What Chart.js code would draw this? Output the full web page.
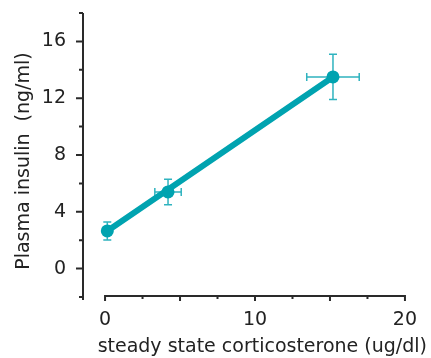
<!DOCTYPE html>
<html>
<head>
<meta charset="utf-8">
<script src="https://cdn.jsdelivr.net/npm/chart.js@4/dist/chart.umd.min.js"></script>
<style>
  body { margin: 0; background: #fff; }
  #wrap { width: 431px; height: 358px; }
</style>
</head>
<body>
<div id="wrap"><canvas id="insulinChart" width="431" height="358"></canvas></div>
<script>
var corticosterone = [0.15, 4.2, 15.2];
var insulin = [2.65, 5.4, 13.5];
var corticosteroneErr = [0.2, 0.88, 1.75];
var insulinErr = [0.63, 0.9, 1.6];

// regression line end points
var fitX = [0.15, 15.2];
var fitY = [2.65, 13.5];

var xTickLabels = [0, 10, 20];
var xTickMarks = [0, 2.5, 5, 7.5, 10, 12.5, 15, 17.5, 20];
var xMajor = [0, 5, 10, 15, 20];
var yTickLabels = [0, 4, 8, 12, 16];
var yTickMarks = [-2, 0, 2, 4, 6, 8, 10, 12, 14, 16, 18];

var teal = "#00a3b0";
var errTeal = "#2fb3bf";
var axisColor = "#2a2a2a";

Chart.defaults.font.family = "'DejaVu Sans', sans-serif";
Chart.defaults.font.size = 19;
Chart.defaults.color = "#222";

// axes drawn by hand so the x axis can stop at 0 and 20 like the original
var axesPlugin = {
    id: "axesPlugin",
    beforeDatasetsDraw: function (chart) {
        var ctx = chart.ctx;
        var xs = chart.scales.x, ys = chart.scales.y;
        ctx.save();
        ctx.strokeStyle = errTeal;
        ctx.lineWidth = 1.5;
        for (var i = 0; i < corticosterone.length; i++) {
            var px = xs.getPixelForValue(corticosterone[i]);
            var py = ys.getPixelForValue(insulin[i]);
            var x0 = xs.getPixelForValue(corticosterone[i] - corticosteroneErr[i]);
            var x1 = xs.getPixelForValue(corticosterone[i] + corticosteroneErr[i]);
            var y0 = ys.getPixelForValue(insulin[i] - insulinErr[i]);
            var y1 = ys.getPixelForValue(insulin[i] + insulinErr[i]);
            ctx.beginPath();
            ctx.moveTo(x0, py); ctx.lineTo(x1, py);
            ctx.moveTo(x0, py - 4); ctx.lineTo(x0, py + 4);
            ctx.moveTo(x1, py - 4); ctx.lineTo(x1, py + 4);
            ctx.moveTo(px, y0); ctx.lineTo(px, y1);
            ctx.moveTo(px - 4, y0); ctx.lineTo(px + 4, y0);
            ctx.moveTo(px - 4, y1); ctx.lineTo(px + 4, y1);
            ctx.stroke();
        }
        ctx.restore();
    },
    afterDraw: function (chart) {
        var ctx = chart.ctx;
        var xs = chart.scales.x, ys = chart.scales.y;
        var ax = chart.chartArea.left;
        ctx.save();
        ctx.strokeStyle = axisColor;
        ctx.lineWidth = 2;
        ctx.beginPath();
        ctx.moveTo(ax, ys.getPixelForValue(18));
        ctx.lineTo(ax, ys.getPixelForValue(-2) + 3);
        yTickMarks.forEach(function (v) {
            var len = yTickLabels.indexOf(v) >= 0 ? 7 : 4;
            var y = ys.getPixelForValue(v);
            ctx.moveTo(ax, y);
            ctx.lineTo(ax - len, y);
        });
        var ay = ys.getPixelForValue(-2) - 1;
        ctx.moveTo(xs.getPixelForValue(0) - 1, ay);
        ctx.lineTo(xs.getPixelForValue(20) + 1, ay);
        xTickMarks.forEach(function (v) {
            var len = xMajor.indexOf(v) >= 0 ? 5 : 3;
            var x = xs.getPixelForValue(v);
            ctx.moveTo(x, ay);
            ctx.lineTo(x, ay + len);
        });
        ctx.stroke();
        ctx.restore();
    }
};

new Chart("insulinChart", {
    type: "scatter",
    data: {
        datasets: [{
            data: fitX.map(function (x, i) { return { x: x, y: fitY[i] }; }),
            showLine: true,
            borderColor: teal,
            borderWidth: 6,
            borderCapStyle: "round",
            pointRadius: 0
        }, {
            data: corticosterone.map(function (x, i) { return { x: x, y: insulin[i] }; }),
            backgroundColor: teal,
            borderColor: teal,
            pointRadius: 6.5,
            borderWidth: 0
        }]
    },
    options: {
        responsive: false,
        animation: false,
        devicePixelRatio: 1,
        layout: { autoPadding: false, padding: { left: 9, top: 13, right: 4, bottom: 0 } },
        plugins: {
            legend: { display: false },
            tooltip: { enabled: false }
        },
        scales: {
            x: {
                type: "linear",
                min: -1.47,
                max: 21.47,
                grid: { display: false, drawTicks: false },
                border: { display: false },
                afterBuildTicks: function (scale) {
                    scale.ticks = xTickLabels.map(function (v) { return { value: v }; });
                },
                afterFit: function (scale) {
                    scale.height = 61;
                    scale.paddingLeft = 0;
                    scale.paddingRight = 0;
                },
                ticks: { padding: 12, maxRotation: 0 },
                title: {
                    display: true,
                    text: "steady state corticosterone (ug/dl)",
                    align: "end",
                    padding: { top: 0, bottom: 0 }
                }
            },
            y: {
                type: "linear",
                min: -2,
                max: 18,
                grid: { display: false, drawTicks: false },
                border: { display: false },
                afterBuildTicks: function (scale) {
                    scale.ticks = yTickLabels.map(function (v) { return { value: v }; });
                },
                afterFit: function (scale) {
                    scale.width = 74;
                    scale.paddingTop = 0;
                    scale.paddingBottom = 0;
                },
                ticks: { padding: 17 },
                title: {
                    display: true,
                    text: "Plasma insulin  (ng/ml)  ",
                    padding: { top: 4, bottom: 0 }
                }
            }
        }
    },
    plugins: [axesPlugin]
});
</script>
</body>
</html>
